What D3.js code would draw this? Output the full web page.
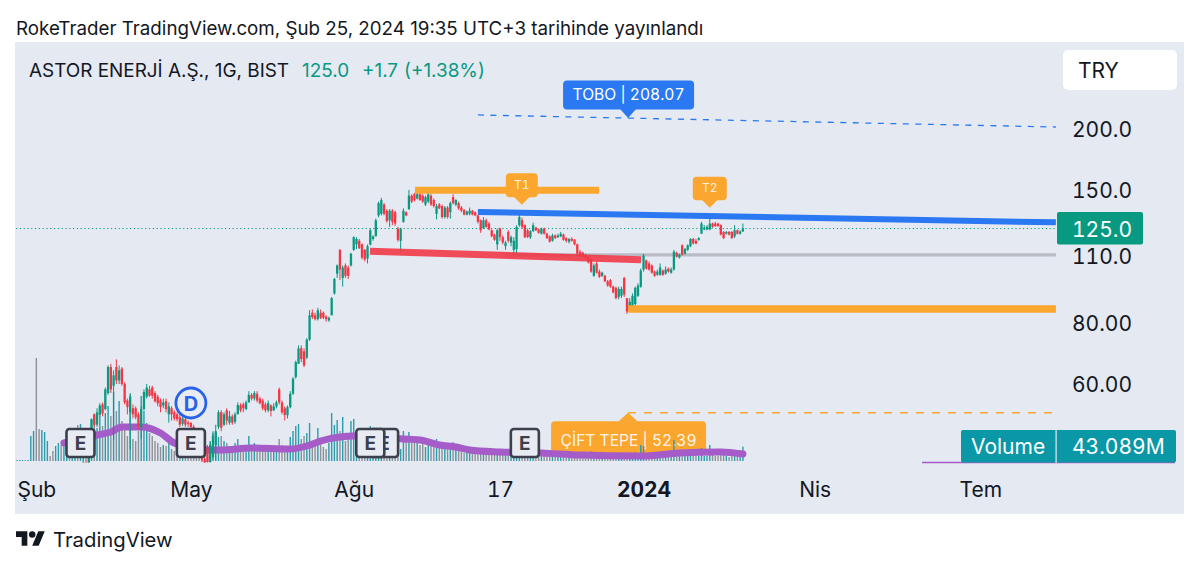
<!DOCTYPE html>
<html>

<head>
	<title>ASTOR Enerji</title>
	<meta charset="utf-8" />
	<script src="https://cdnjs.cloudflare.com/ajax/libs/d3/7.8.5/d3.min.js" charset="utf-8"></script>
</head>

<style>
	html, body {
		margin: 0;
		padding: 0;
		background: #fff;
		overflow: hidden;
	}

	text {
		font-family: Inter, 'Noto Sans', sans-serif;
		fill: #131722;
		font-variant-numeric: tabular-nums;
	}

	.tick text {
		font-size: 21px;
	}
</style>

<body>
	<script type="text/javascript">
		// Daily bars.
		const opens = [
			33.8,34.2,34.8,35.6,34.9,35.3,36.1,37.0,36.4,35.8,
			36.3,37.2,38.1,37.4,36.9,37.5,38.2,37.8,38.6,39.2,
			38.7,39.4,40.0,39.5,40.2,41.4,41.0,48.0,52.0,49.5,
			51.8,54.5,53.3,57.5,65,59.5,65,61,64.5,60,
			55.5,52.5,53.5,53.5,52,49,53.3,56.5,58.5,59,
			57.5,56.5,55.5,54.2,55.3,52,53.5,52.5,52,51.3,
			49.7,50.8,50,50,49,47.5,45.5,43.5,42,44.5,
			41.5,42.5,45,49,52.5,49.5,53,50,51.5,50.2,
			52,54.3,54.5,53.3,55,57,56,57.3,56,55.5,
			54.5,53,54.2,53,54,58.5,55,53.5,51.8,53.8,
			57.3,62,66,71,70,68,74,84,83,81.5,
			84,84,82.5,81,83,92,101,113,99,105,
			104,105,113,116,118,116,113,108.5,115.8,119,
			120.5,133,134,140,136,130,136,135,125,118,
			129,135,137,146,147,144,147,146,140,142,
			146,143,134,140,139,132,138,135,145,140,
			141,138,136.5,133.5,134,136,135,133,130,125,
			130,128,124,121.5,116,125,120,115,123,117,
			113,113.5,127,130,127,124,120,123.5,125.5,124.5,
			122,125,122,120.5,118,121,120,120.5,121.5,119.5,
			117.5,119,118.5,116,112,111.5,110,109,108,100,
			106,102,100,100,97.5,98,95,94.5,90.5,91,
			99,90,85.5,86,87.5,91,95,103,107.5,106,
			105,102,100.5,100.5,102.5,101,103.5,101.5,103,111.5,
			109,115.5,111,113,115,119,118,118.5,122,124.5,
			124.5,124.5,128,128,128,127,123,122,123,123,
			120.5,124,122,123.3
		];
		const highs = [
			34.6,35.2,36.0,36.0,35.6,36.5,37.4,37.4,36.8,36.7,
			37.6,38.5,38.5,37.8,37.9,38.6,38.6,39.0,39.6,39.6,
			39.8,40.4,40.4,40.6,41.8,41.8,45.4,51.0,52.2,53.5,
			54.8,55,59,65.5,66,64,67.4,65.5,65,60.5,
			56,57.5,54.5,54,52.5,54,58.5,60,59.5,59.5,
			58,57,56,56,56,55,54,53,52.5,52,
			51.5,51.5,50.5,50,49.5,47.8,45.8,43.8,42.3,45,
			45.5,48,49.5,53,53,52.5,53.5,52.8,52,52.5,
			55,54.8,55,55.5,58,57.5,58,58,56.5,56,
			55,55.5,54.5,54.8,55.5,59,55.5,54,54.2,58,
			62,67,72,72,71,74.5,85,85.3,84,86,
			85.3,84.5,83,82.5,90.5,99,105.5,113.5,105,106,
			105,111.5,120.5,120,119,116.5,113.5,116,125,121,
			131,142,144.5,141,137,137,137,136,126,125.5,
			137.5,135.5,150,147,148,151,148,147,146,149,
			147,144,140.5,141,140,139,139,142,147,143.5,
			142,139,137,136,138,136.5,135.5,133.5,130.5,132,
			131,129,124.5,122,125,125.5,121,118,124,121,
			120,127,134.5,131.5,127.5,125,124,128.5,126,125,
			125.5,125.5,122.5,121,122,121.5,122,123,122,120,
			119.5,120,119,116.5,113,112,111,109.5,108.5,106,
			107,103,102,100.5,98,98.5,95.5,95,95,95,
			99.5,90,90,92,95,96.5,103.5,111,108,107,
			105.5,102.5,103,106,103,104.5,104,104,113,112,
			111,116,114,116,119.5,119.5,119,120,129,127,
			127,131.5,128.5,129,128.5,127.5,123.5,123.5,123.5,123.5,
			127,124.5,124,128
		];
		const lows = [
			33.4,33.8,34.4,34.5,34.5,35.0,35.7,36.0,35.4,35.4,
			35.9,36.8,37.0,36.5,36.5,37.1,37.4,37.4,38.2,38.3,
			38.3,39.0,39.1,39.1,39.8,40.6,40.6,47.5,49.0,49.0,
			51.5,51.5,53,57,57.5,46,60,60,59.5,54.5,
			52,44,51,50.8,48.5,46.3,53,56,56.5,56,
			55,54,52.5,53.5,52.5,50,50.5,50.5,50.3,49,
			49.2,49,49,48.5,47,45,43,41.5,40,41,
			41,42,42,48.5,48,49.2,49.5,49.5,49.5,49.7,
			52,52.5,52.5,53,55,55.5,55.5,55,54.5,53,
			52.5,52.5,51.5,52.8,53.5,54.5,52,50.5,51,53.5,
			57,61.5,66,66.5,65,67.5,73.5,81.5,81,81,
			81.5,81.5,80.5,80.5,83,91.5,99,98,95,99,
			98.5,104.5,112.5,113.5,113.5,108,107,106,115.5,118,
			120.5,131.8,133,133,128.5,126,127,126.5,117.5,112,
			128.5,132.5,136.5,141,142,143.5,142.5,141,139,141,
			139,138,130.5,137,131,131,131,131,140,139,
			136.5,135,133,133,133,133,132.5,128,122.5,125,
			125.5,124,120,118,113,118,116,113,117,115,
			110.5,111,126,125,119.5,119.5,119,123,123.5,122,
			121.5,121.5,119,117,117.5,119,119.5,120,118,117,
			116.5,117.5,115.5,110,109.5,109,108,106,101.5,99.5,
			101,99,99.5,97,95,94.5,92,89.5,89.5,90,
			90.5,83.5,85,86,87,90.5,94.5,102,103,102.5,
			101,99.5,100,100,100,100.5,101.5,101,102.5,109,
			108.5,110,110.5,112.5,114.5,116,116,118,122,124,
			124,124,125.5,126,126,121,119,121.5,121,119,
			119.5,121.5,121.5,123
		];
		const closes = [
			34.2,34.8,35.6,34.9,35.3,36.1,37.0,36.4,35.8,36.3,
			37.2,38.1,37.4,36.9,37.5,38.2,37.8,38.6,39.2,38.7,
			39.4,40.0,39.5,40.2,41.4,41.0,45.0,50.8,49.5,52.5,
			54.2,52.2,58.5,65,58.5,62.5,61,64,60,55,
			53.8,56.5,52,51.3,49.2,53.3,57.8,59,56.8,56.8,
			55.3,54.8,53.8,55,53.3,54,52,51,50.8,49.5,
			51,49.5,49.7,49,47.5,45.5,43.5,42,40.5,41.5,
			45,47,48,52.5,48.8,52,50.5,51.5,50,52,
			54.3,53,53.5,55,57,56,57.5,55.5,54.8,53.5,
			53,54.8,52.8,54,55,55,52.5,51.8,53.8,57.3,
			61.5,66.5,71,67.5,65.5,74,83,82.3,81.5,85,
			82,82,81.5,82,90,98.5,105,103,104,100,
			100,111,120,119,114,109,108,115,124,120.5,
			130,141,143,134,129.5,136,129,128,118.5,125,
			136,133,146,142,143,147,143,142,145,147,
			140,139,139,137.5,132,138,132,141,141,143,
			137.5,136,133.5,135.5,136,133.5,133,129,124,130,
			126,124.5,120.5,118.5,124,120,117,117,118,120,
			118,126,132,126,120,120,123.5,127,124,122.5,
			125,122,119.5,117.5,121,119.5,121,122,118.5,118,
			119,118,116,111,110,109.5,108.5,106.5,102,105,
			101.5,99.5,101.5,97.5,95.5,95,92.5,90,94,94,
			91.5,84.5,88.5,91,94.5,95.5,102.5,110,103.5,103,
			101.5,100,102,104,100.5,103,102,103,112,109.5,
			110.5,110.5,113.5,115.5,119,116.5,116.5,119.5,128,125.5,
			126,128,126,126.5,126.5,121.5,119.5,123,121.5,119.5,
			124,122,123.3,125
		];
		// Volume in millions.
		const volumes = [
			3,3,3,3,3,75,90,309,96,93,
			87,60,15,30,45,54,48,54,66,90,
			99,84,108,111,60,45,54,126,141,99,
			135,105,144,165,135,207,150,180,120,105,
			75,198,66,60,90,195,150,114,84,75,
			60,54,42,48,45,54,36,30,24,30,
			18,24,18,12,15,12,9,12,24,45,
			60,84,90,72,75,60,54,45,42,54,
			66,36,42,45,75,42,54,36,30,36,
			30,42,30,36,42,66,48,30,45,72,
			90,105,111,66,75,84,114,60,54,99,
			66,42,36,54,144,108,123,90,132,60,
			66,120,126,75,60,60,66,72,105,60,
			75,66,90,84,48,42,66,48,45,36,
			90,57,87,54,57,60,48,54,42,57,
			45,42,66,39,42,45,36,42,57,33,
			30,27,24,27,30,24,21,21,27,27,
			21,21,24,18,36,27,21,18,21,24,
			33,36,33,27,21,18,21,24,18,15,
			18,15,15,15,18,15,15,18,15,12,
			15,12,15,15,15,18,18,21,30,27,
			18,18,15,15,15,15,15,18,15,15,
			24,27,18,21,27,24,48,45,21,18,
			15,15,15,18,15,15,15,18,63,18,
			15,21,15,15,24,15,15,15,39,15,
			15,48,18,15,15,21,18,15,12,33,
			30,15,15,43.089
		];

		// Volume moving average: bar numbers and levels.
		const maBars = [17,29,34,38,45,52,57,68,74,85,99,105,110,117,122,140,146,153,159,164,175,190,204,226,240,255,263];
		const maValues = [54,78,87,102,102,84,54,33,33,39,36,45,60,72,75,66,63,48,42,33,27,24,18,15,24,27,21];

		// Axis ticks.
		const priceTicks = [200, 150, 110, 80, 60];
		const priceLabels = ["200.0", "150.0", "110.0", "80.00", "60.00"];
		const timeTicks = [7, 63, 122, 175, 227, 289, 349];
		const timeLabels = ["Şub", "May", "Ağu", "17", "2024", "Nis", "Tem"];

		// Drawn trend lines: [bar, price, bar, price].
		const greyLine = [176.8, 110.4, 376.4, 110.4];
		const orangeTop = [144.2, 149.7, 210.9, 149.7];
		const orangeBottom = [221.4, 85.5, 376.4, 85.5];
		const orangeDashed = [221.4, 52.39, 376.4, 52.39];
		const blueDashed = [167, 213.7, 376.4, 201.9];
		const blueSolid = [167, 135.2, 376.4, 128.7];
		const redLine = [127.9, 112.3, 226.1, 107.9];

		const earningsBars = [133, 128, 23, 63, 184];
		const dividendBar = 63;
		const lastPrice = 125.0;

		const w = 1200;
		const h = 570;
		const up = "#089981";
		const down = "#f23645";
		const orange = "#fba62f";
		const blue = "#2a78f2";
		const volumeTeal = "#2a9cab";
		const volumeGrey = "#8e9096";

		const svg = d3.select("body").append("svg")
			.attr("width", w)
			.attr("height", h)
			.style("display", "block");

		// Title above the panel.
		svg.append("text")
			.attr("x", 16)
			.attr("y", 35)
			.style("font-size", "18.75px")
			.style("font-variant-numeric", "normal")
			.text("RokeTrader TradingView.com, Şub 25, 2024 19:35 UTC+3 tarihinde yayınlandı");

		svg.append("rect")
			.attr("x", 15)
			.attr("y", 42)
			.attr("width", 1169)
			.attr("height", 472)
			.attr("fill", "#e4e9f2");

		// Create scales. Bars are evenly spaced, prices are on a log scale.
		const xScale = d3.scaleLinear()
			.domain([0, 263])
			.range([17, 742.9]);
		const yScale = d3.scaleLog()
			.domain([200, 60])
			.range([129, 384]);
		const volScale = d3.scaleLinear()
			.domain([0, 309])
			.range([461, 358]);

		const defs = svg.append("defs");
		defs.append("clipPath").attr("id", "plot")
			.append("rect")
			.attr("x", 15)
			.attr("y", 43)
			.attr("width", 1041)
			.attr("height", 419.5);

		// Header line.
		const header = svg.append("text")
			.attr("x", 29)
			.attr("y", 77)
			.style("font-size", "18.9px")
			.style("font-variant-numeric", "normal");
		header.append("tspan").text("ASTOR ENERJİ A.Ş., 1G, BIST");
		header.append("tspan").attr("x", 302).style("fill", up).text("125.0");
		header.append("tspan").attr("x", 362).style("fill", up).text("+1.7");
		header.append("tspan").attr("x", 404).style("fill", up).text("(+1.38%)");

		// Last price dotted line.
		svg.append("line")
			.attr("x1", 16)
			.attr("x2", xScale(376.4))
			.attr("y1", yScale(lastPrice))
			.attr("y2", yScale(lastPrice))
			.attr("stroke", up)
			.attr("stroke-width", 1)
			.attr("stroke-dasharray", "1.2 2.6");

		function trend(t, color, width, dash) {
			return svg.append("line")
				.attr("x1", xScale(t[0]))
				.attr("y1", yScale(t[1]))
				.attr("x2", xScale(t[2]))
				.attr("y2", yScale(t[3]))
				.attr("stroke", color)
				.attr("stroke-width", width)
				.attr("stroke-dasharray", dash || null);
		}

		// Price label with a small arrow pointing to (bar, price).
		function priceNote(bar, price, label, fill, box) {
			const tx = xScale(bar);
			const ty = yScale(price);
			const g = svg.append("g");
			g.append("path")
				.attr("d", box.below
					? `M${tx - box.arrow},${ty + box.gap} L${tx},${ty} L${tx + box.arrow},${ty + box.gap}Z`
					: `M${tx - box.arrow},${ty - box.gap} L${tx},${ty} L${tx + box.arrow},${ty - box.gap}Z`)
				.attr("fill", fill);
			g.append("rect")
				.attr("x", tx + box.dx)
				.attr("y", box.below ? ty + box.gap - 0.5 : ty - box.gap - box.h + 0.5)
				.attr("width", box.w)
				.attr("height", box.h)
				.attr("rx", 4)
				.attr("fill", fill);
			g.append("text")
				.attr("x", tx + box.dx + box.w / 2)
				.attr("y", box.below ? ty + box.gap + box.h / 2 + box.shift : ty - box.gap - box.h / 2 + box.shift)
				.attr("text-anchor", "middle")
				.style("font-size", box.size + "px")
				.style("fill", box.color)
				.text(label);
		}

		// The double-top note lies underneath the volume pane.
		trend(orangeDashed, orange, 1.4, "8 8");
		priceNote(221.4, 52.39, "ÇİFT TEPE | 52.39", orange,
			{ below: true, arrow: 10, gap: 9, dx: -77, w: 155, h: 33, size: 15.6, shift: 8, color: "rgba(255,255,255,0.9)" });

		trend(greyLine, "#b9bcc5", 3.2);

		const plot = svg.append("g").attr("clip-path", "url(#plot)");

		// Volume bars.
		plot.selectAll("rect.vol")
			.data(volumes)
			.enter()
			.append("rect")
			.attr("class", "vol")
			.attr("x", (d, i) => xScale(i) - 0.7)
			.attr("y", d => volScale(d))
			.attr("width", 1.4)
			.attr("height", d => volScale(0) - volScale(d))
			.attr("fill", (d, i) => closes[i] >= opens[i] ? volumeTeal : volumeGrey);

		// Volume average.
		const maLine = d3.line()
			.x(d => xScale(d))
			.y((d, i) => volScale(maValues[i]))
			.curve(d3.curveMonotoneX);

		plot.append("path")
			.attr("d", maLine(maBars))
			.attr("fill", "none")
			.attr("stroke", "#a55cc8")
			.attr("stroke-width", 7)
			.attr("stroke-linecap", "round");

		// Candles: wick first, then body.
		const candles = plot.selectAll("g.candle")
			.data(closes)
			.enter()
			.append("g")
			.attr("class", "candle")
			.attr("fill", (d, i) => d >= opens[i] ? up : down)
			.attr("stroke", (d, i) => d >= opens[i] ? up : down);

		candles.append("line")
			.attr("x1", (d, i) => xScale(i))
			.attr("x2", (d, i) => xScale(i))
			.attr("y1", (d, i) => yScale(highs[i]))
			.attr("y2", (d, i) => yScale(lows[i]))
			.attr("stroke-width", 1);

		candles.append("rect")
			.attr("x", (d, i) => xScale(i) - 1.15)
			.attr("y", (d, i) => yScale(Math.max(d, opens[i])))
			.attr("width", 2.3)
			.attr("height", (d, i) => Math.max(0.8, Math.abs(yScale(d) - yScale(opens[i]))))
			.attr("stroke", "none");

		// Trend lines go over the candles.
		trend(orangeTop, orange, 7);
		trend(orangeBottom, orange, 7.5);
		trend(blueDashed, blue, 1.3, "6 6.5");
		trend(blueSolid, blue, 6);
		trend(redLine, "#f23645", 7).attr("opacity", 0.88);

		priceNote(221.4, 210.7, "TOBO | 208.07", blue,
			{ below: false, arrow: 8, gap: 9, dx: -65, w: 131, h: 29, size: 15.6, shift: 5.5, color: "#fff" });
		priceNote(182.9, 139.8, "T1", orange,
			{ below: false, arrow: 8, gap: 8, dx: -16, w: 32, h: 24, size: 12, shift: 4.5, color: "rgba(255,255,255,0.85)" });
		priceNote(251, 137.9, "T2", orange,
			{ below: false, arrow: 8, gap: 8, dx: -17, w: 34, h: 23.5, size: 12, shift: 4.5, color: "rgba(255,255,255,0.85)" });

		// Earnings markers.
		const earn = svg.selectAll("g.earn")
			.data(earningsBars)
			.enter()
			.append("g")
			.attr("class", "earn")
			.attr("transform", d => "translate(" + xScale(d) + ",443)");

		earn.append("rect")
			.attr("x", -14)
			.attr("y", -14)
			.attr("width", 28)
			.attr("height", 28)
			.attr("rx", 3)
			.attr("fill", "#e8ebf2")
			.attr("stroke", "#3c404c")
			.attr("stroke-width", 2.6);

		earn.append("text")
			.attr("text-anchor", "middle")
			.attr("y", 7)
			.style("font-size", "19px")
			.style("font-weight", 700)
			.style("fill", "#3c404c")
			.text("E");

		// Dividend marker.
		const div = svg.append("g")
			.attr("transform", "translate(" + xScale(dividendBar) + ",403)");
		div.append("circle")
			.attr("r", 15)
			.attr("fill", "#e8ebf2")
			.attr("stroke", "#2962e8")
			.attr("stroke-width", 2.8);
		div.append("text")
			.attr("text-anchor", "middle")
			.attr("y", 7.5)
			.style("font-size", "20px")
			.style("font-weight", 700)
			.style("fill", "#2962e8")
			.text("D");

		// Create axes.
		const yAxis = d3.axisRight(yScale)
			.tickValues(priceTicks)
			.tickSize(0)
			.tickPadding(0)
			.tickFormat((d, i) => priceLabels[i]);

		const xAxis = d3.axisBottom(xScale)
			.tickValues(timeTicks)
			.tickSize(0)
			.tickPadding(0)
			.tickFormat((d, i) => timeLabels[i]);

		const yG = svg.append("g")
			.attr("transform", "translate(1072, 0.7)")
			.call(yAxis);
		yG.select(".domain").remove();

		const xG = svg.append("g")
			.attr("transform", "translate(0, 482)")
			.call(xAxis);
		xG.select(".domain").remove();
		xG.selectAll("text")
			.style("font-weight", (d, i) => timeLabels[i] == "2024" ? 700 : 400);

		// Last price tag.
		const tagY = yScale(lastPrice);
		svg.append("rect")
			.attr("x", 1057)
			.attr("y", tagY - 16.5)
			.attr("width", 86)
			.attr("height", 32.5)
			.attr("rx", 2)
			.attr("fill", up);
		svg.append("text")
			.attr("x", 1072)
			.attr("y", tagY + 8)
			.style("font-size", "21px")
			.style("fill", "#fff")
			.text(d3.format(".1f")(lastPrice));

		// Currency box.
		svg.append("rect")
			.attr("x", 1063)
			.attr("y", 50)
			.attr("width", 114)
			.attr("height", 40)
			.attr("rx", 5)
			.attr("fill", "#fff");
		svg.append("text")
			.attr("x", 1078)
			.attr("y", 77.5)
			.style("font-size", "21px")
			.text("TRY");

		// Volume tag and the thin average line under it.
		svg.append("line")
			.attr("x1", 922)
			.attr("x2", 1175)
			.attr("y1", volScale(0) + 1.5)
			.attr("y2", volScale(0) + 1.5)
			.attr("stroke", "#a55cc8")
			.attr("stroke-width", 1.4);
		svg.append("rect")
			.attr("x", 961)
			.attr("y", 430)
			.attr("width", 215)
			.attr("height", 32.5)
			.attr("rx", 2)
			.attr("fill", "#0a97a6");
		svg.append("rect")
			.attr("x", 1055.5)
			.attr("y", 430)
			.attr("width", 1.2)
			.attr("height", 33)
			.attr("fill", "#e4e9f2");
		svg.append("text")
			.attr("x", 971)
			.attr("y", 454)
			.style("font-size", "21px")
			.style("fill", "#fff")
			.text("Volume");
		svg.append("text")
			.attr("x", 1072)
			.attr("y", 454)
			.style("font-size", "21px")
			.style("fill", "#fff")
			.text(d3.format(".3f")(volumes[volumes.length - 1]) + "M");

		// TradingView logo and name.
		const logo = svg.append("g")
			.attr("transform", "translate(16, 528) scale(0.81)")
			.attr("fill", "#131722");
		logo.append("path").attr("d", "M14 22H7V11H0V4h14v18zM28 22h-8l7.5-18h8L28 22z");
		logo.append("circle").attr("cx", 20).attr("cy", 8).attr("r", 4);

		svg.append("text")
			.attr("x", 53)
			.attr("y", 547)
			.style("font-size", "20.3px")
			.text("TradingView");
	</script>
</body>

</html>
